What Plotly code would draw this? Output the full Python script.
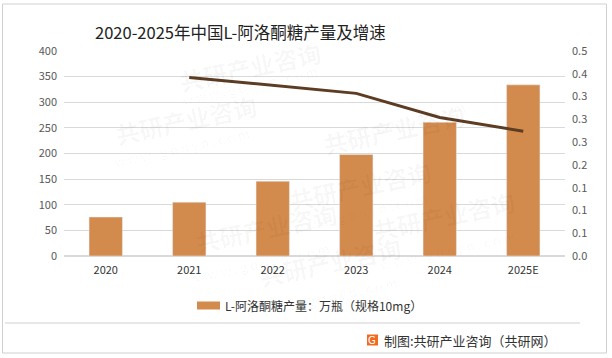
import plotly.graph_objects as go

years = ["2020", "2021", "2022", "2023", "2024", "2025E"]
production = [76, 105, 146, 198, 261, 334]
growth_years = ["2021", "2022", "2023", "2024", "2025E"]
growth = [0.392, 0.374, 0.357, 0.304, 0.274]

title_text = "2020-2025年中国L-阿洛酮糖产量及增速"
legend_text = "L-阿洛酮糖产量：万瓶（规格10mg）"
credit_text = "制图:共研产业咨询（共研网）"

W, H = 612, 358
FONT = "Noto Sans CJK SC, sans-serif"
BAR_COLOR = "#D38B4D"
LINE_COLOR = "#5C3D24"

def px(x):
    return x / W

def py(y):
    return 1 - y / H

fig = go.Figure()
fig.add_trace(go.Bar(x=years, y=production, marker_color=BAR_COLOR, width=0.4,
                     name=legend_text, yaxis="y", showlegend=False))
fig.add_trace(go.Scatter(x=growth_years, y=growth, mode="lines",
                         line=dict(color=LINE_COLOR, width=3), yaxis="y2",
                         showlegend=False))

shapes = [
    dict(type="rect", xref="paper", yref="paper", x0=px(2.5), x1=px(606.5),
         y0=py(353), y1=py(4), line=dict(color="#d0d0d0", width=1), layer="below"),
    dict(type="line", xref="paper", yref="paper", x0=px(5), x1=px(580),
         y0=py(323), y1=py(323), line=dict(color="#d0d0d0", width=1)),
    dict(type="rect", xref="paper", yref="paper", x0=px(197), x1=px(220),
         y0=py(309.5), y1=py(301.5), fillcolor=BAR_COLOR, line=dict(width=0)),
    dict(type="rect", xref="paper", yref="paper", x0=px(367), x1=px(378),
         y0=py(345.5), y1=py(334.5), fillcolor="#F26A1F", line=dict(width=0)),
]

annotations = []

# faint watermarks (drawn first, underneath the other texts)
wm = [(250, 32), (470, 95), (110, 120), (360, 185), (190, 262), (520, 250), (330, 296)]
for (wx, wy) in wm:
    annotations.append(dict(text="<b>共研产业咨询</b>", x=px(wx), y=py(wy), xref="paper",
                            yref="paper", showarrow=False, textangle=-12,
                            font=dict(family=FONT, size=24, color="rgba(0,0,0,0.035)")))
    annotations.append(dict(text="w w w . g o n y n . c o m", x=px(wx), y=py(wy + 27),
                            xref="paper", yref="paper", showarrow=False, textangle=-12,
                            font=dict(family=FONT, size=13, color="rgba(0,0,0,0.035)")))

annotations += [
    dict(text=title_text, x=px(240), y=py(32), xref="paper", yref="paper",
         showarrow=False, font=dict(family=FONT, size=16.5, color="#222222"),
         xanchor="center", yanchor="middle"),
    dict(text=legend_text, x=px(223), y=py(305.5), xref="paper", yref="paper",
         showarrow=False, font=dict(family=FONT, size=12, color="#333333"),
         xanchor="left", yanchor="middle"),
    dict(text="G", x=px(372.5), y=py(340), xref="paper", yref="paper",
         showarrow=False, font=dict(family="DejaVu Sans", size=10, color="white"),
         xanchor="center", yanchor="middle"),
    dict(text=credit_text, x=px(382), y=py(340), xref="paper", yref="paper",
         showarrow=False, font=dict(family=FONT, size=13, color="#333333"),
         xanchor="left", yanchor="middle"),
]

fig.update_layout(
    width=W, height=H,
    margin=dict(l=0, r=0, t=0, b=0),
    paper_bgcolor="white", plot_bgcolor="white",
    font=dict(family=FONT),
    xaxis=dict(domain=[px(64), px(565)], showgrid=False, showline=False,
               ticks="", tickfont=dict(family=FONT, size=11, color="#333333"),
               ticklabelstandoff=6, automargin=False),
    yaxis=dict(domain=[py(256), py(51)], range=[0, 400], dtick=50,
               showgrid=True, gridcolor="#d9d9d9", gridwidth=1, zeroline=True,
               zerolinecolor="#d9d9d9", showline=False, ticks="",
               tickfont=dict(family=FONT, size=11, color="#595959"),
               ticklabelstandoff=6, automargin=False),
    yaxis2=dict(overlaying="y", side="right", range=[0, 0.45], dtick=0.05,
                tickformat=".1f", showgrid=False, zeroline=False, showline=False,
                ticks="", tickfont=dict(family=FONT, size=11, color="#595959"),
                ticklabelstandoff=6, automargin=False),
    shapes=shapes,
    annotations=annotations,
    bargap=0.6,
)

fig.write_html("out.html", config={"displayModeBar": False},
               post_script="document.body.style.margin='0';document.body.style.padding='0';")
